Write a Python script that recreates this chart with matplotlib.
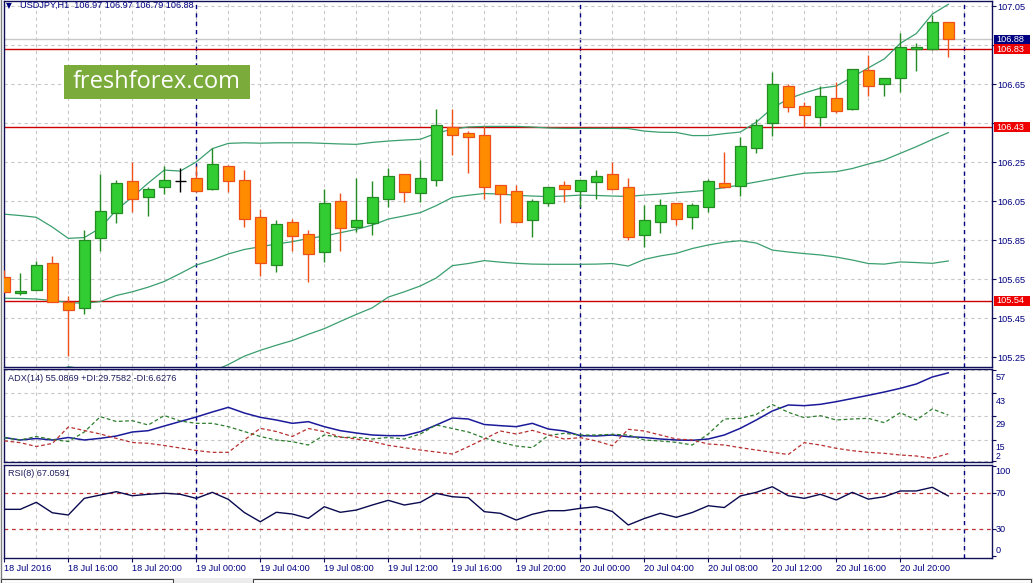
import matplotlib
matplotlib.use('Agg')
import matplotlib.pyplot as plt
import matplotlib.transforms as mtransforms
from matplotlib.patches import Rectangle
import numpy as np
import pandas as pd

plt.rcParams['font.family'] = ['Liberation Sans', 'DejaVu Sans']

# ---------------- data ----------------
symbol = 'USDJPY,H1'
first_bar = '2016-07-18 12:00'

open_ = [105.660, 105.578, 105.597, 105.734, 105.534, 105.501, 105.860, 105.988, 106.154, 106.070,
         106.122, 106.154, 106.168, 106.112, 106.229, 106.158, 105.968, 105.723, 105.942, 105.881,
         105.788, 106.050, 105.920, 105.940, 106.060, 106.188, 106.091, 106.158, 106.430, 106.399,
         106.390, 106.132, 106.101, 105.953, 106.040, 106.132, 106.101, 106.150, 106.188, 106.122,
         105.879, 105.942, 106.040, 105.968, 106.019, 106.144, 106.130, 106.322, 106.450, 106.640,
         106.537, 106.481, 106.578, 106.522, 106.722, 106.650, 106.681, 106.830, 106.830, 106.970]
high_ = [105.700, 105.684, 105.744, 105.771, 105.564, 105.903, 106.190, 106.159, 106.252, 106.122,
         106.231, 106.219, 106.233, 106.322, 106.238, 106.211, 106.010, 105.954, 105.959, 105.903,
         106.113, 106.091, 106.171, 106.156, 106.221, 106.190, 106.262, 106.522, 106.522, 106.410,
         106.436, 106.135, 106.132, 106.062, 106.125, 106.154, 106.160, 106.210, 106.250, 106.168,
         106.030, 106.062, 106.042, 106.040, 106.163, 106.304, 106.381, 106.472, 106.715, 106.650,
         106.558, 106.641, 106.662, 106.730, 106.800, 106.683, 106.912, 106.860, 107.004, 106.970]
low_ = [105.585, 105.569, 105.595, 105.533, 105.257, 105.470, 105.797, 105.940, 105.997, 105.976,
        106.087, 106.099, 106.100, 106.110, 106.099, 105.920, 105.668, 105.689, 105.797, 105.638,
        105.740, 105.797, 105.891, 105.879, 106.019, 106.048, 106.048, 106.130, 106.289, 106.197,
        106.060, 105.940, 105.940, 105.868, 106.027, 106.048, 106.019, 106.060, 106.110, 105.850,
        105.817, 105.889, 105.930, 105.910, 105.997, 106.120, 106.077, 106.299, 106.386, 106.510,
        106.433, 106.438, 106.501, 106.520, 106.588, 106.588, 106.609, 106.717, 106.828, 106.790]
close_ = [105.586, 105.590, 105.723, 105.535, 105.491, 105.850, 105.999, 106.142, 106.060, 106.112,
          106.158, 106.154, 106.101, 106.240, 106.153, 105.958, 105.732, 105.932, 105.870, 105.778,
          106.040, 105.912, 105.953, 106.072, 106.178, 106.099, 106.168, 106.441, 106.388, 106.378,
          106.122, 106.087, 105.942, 106.050, 106.122, 106.112, 106.158, 106.178, 106.112, 105.868,
          105.953, 106.030, 105.958, 106.030, 106.154, 106.122, 106.334, 106.440, 106.650, 106.532,
          106.491, 106.588, 106.511, 106.727, 106.640, 106.681, 106.840, 106.840, 106.968, 106.880]

bb_upper = [105.984, 105.977, 105.968, 105.918, 105.860, 105.864, 105.913, 106.005, 106.072, 106.144,
            106.210, 106.205, 106.252, 106.320, 106.347, 106.350, 106.348, 106.350, 106.350, 106.350,
            106.347, 106.344, 106.342, 106.352, 106.359, 106.364, 106.368, 106.399, 106.420, 106.431,
            106.434, 106.434, 106.434, 106.431, 106.426, 106.424, 106.424, 106.424, 106.424, 106.423,
            106.410, 106.404, 106.403, 106.387, 106.387, 106.397, 106.405, 106.456, 106.528, 106.575,
            106.605, 106.630, 106.641, 106.687, 106.734, 106.780, 106.860, 106.910, 107.010, 107.060]
bb_middle = [105.553, 105.552, 105.549, 105.541, 105.531, 105.527, 105.536, 105.567, 105.586, 105.610,
             105.639, 105.680, 105.723, 105.749, 105.780, 105.803, 105.817, 105.831, 105.843, 105.859,
             105.872, 105.889, 105.906, 105.928, 105.959, 105.975, 105.992, 106.028, 106.070, 106.081,
             106.090, 106.087, 106.081, 106.077, 106.074, 106.077, 106.082, 106.080, 106.077, 106.075,
             106.082, 106.087, 106.094, 106.100, 106.108, 106.120, 106.134, 106.149, 106.164, 106.180,
             106.194, 106.198, 106.202, 106.218, 106.241, 106.262, 106.296, 106.330, 106.367, 106.402]
bb_lower = [105.122, 105.127, 105.130, 105.164, 105.202, 105.190, 105.159, 105.129, 105.100, 105.076,
            105.068, 105.120, 105.194, 105.178, 105.213, 105.256, 105.286, 105.312, 105.336, 105.368,
            105.397, 105.434, 105.470, 105.504, 105.559, 105.586, 105.616, 105.657, 105.720, 105.731,
            105.746, 105.738, 105.732, 105.728, 105.727, 105.727, 105.727, 105.728, 105.731, 105.718,
            105.752, 105.770, 105.783, 105.808, 105.826, 105.840, 105.848, 105.836, 105.800, 105.790,
            105.782, 105.775, 105.764, 105.749, 105.731, 105.728, 105.739, 105.736, 105.732, 105.744]

adx = [16.3, 14.8, 15.7, 14.8, 16.3, 14.8, 15.8, 17.2, 19.6, 20.4,
       23.2, 25.9, 28.6, 31.6, 34.4, 31.0, 28.4, 26.8, 24.8, 25.8,
       22.8, 20.4, 19.0, 17.8, 17.4, 17.4, 19.8, 23.8, 28.0, 27.4,
       24.1, 23.4, 22.8, 24.8, 21.4, 20.2, 17.4, 17.2, 17.8, 16.8,
       16.3, 15.4, 14.8, 14.6, 15.4, 17.8, 21.8, 26.8, 32.2, 35.8,
       35.4, 36.2, 37.8, 39.7, 41.6, 43.6, 45.8, 48.4, 52.6, 55.0869]
plus_di = [16.2, 14.8, 16.9, 15.1, 13.9, 19.6, 28.8, 25.9, 26.4, 23.8,
           29.5, 26.2, 24.8, 24.8, 22.8, 19.9, 16.9, 14.8, 13.8, 11.8,
           17.8, 16.4, 16.4, 15.4, 16.3, 15.4, 18.4, 23.8, 21.7, 19.6,
           16.0, 13.4, 11.2, 10.2, 17.5, 18.8, 17.8, 17.8, 18.2, 17.8,
           14.8, 14.2, 13.4, 11.8, 18.4, 27.4, 27.8, 30.1, 36.1, 31.4,
           28.2, 29.4, 26.8, 27.4, 27.8, 25.2, 31.2, 26.8, 33.4, 29.7582]
minus_di = [14.3, 13.2, 10.9, 12.7, 22.6, 20.5, 18.4, 15.8, 13.3, 12.8,
            11.5, 10.0, 8.5, 7.4, 7.4, 14.8, 21.8, 19.9, 16.9, 21.7,
            19.8, 16.6, 15.4, 13.9, 11.6, 10.2, 8.8, 7.6, 6.4, 10.8,
            15.4, 20.2, 18.4, 20.6, 17.8, 15.4, 16.2, 14.2, 11.4, 21.2,
            20.2, 17.8, 15.4, 14.8, 12.4, 11.8, 10.2, 8.8, 7.4, 6.1,
            13.2, 11.8, 9.8, 8.4, 7.4, 6.8, 5.8, 5.2, 3.8, 6.6276]
rsi = [52.2, 52.2, 60.0, 48.4, 45.9, 64.4, 68.1, 71.8, 67.3, 68.9,
       70.1, 68.9, 64.4, 71.1, 63.3, 48.7, 38.4, 48.9, 47.0, 42.2,
       55.1, 48.9, 51.4, 57.0, 62.2, 57.0, 60.0, 70.0, 66.2, 65.1,
       49.6, 47.8, 40.3, 46.7, 50.7, 50.7, 53.3, 55.1, 49.8, 34.8,
       42.0, 47.8, 43.3, 48.7, 56.2, 54.2, 67.0, 71.1, 77.3, 67.3,
       64.4, 68.9, 62.6, 71.1, 63.5, 66.2, 72.6, 72.6, 76.7, 67.0591]

price_ticks = [105.25, 105.45, 105.65, 105.85, 106.05, 106.25, 106.45, 106.65, 106.85, 107.05]
level_lines = [106.83, 106.43, 105.54]
bid_price = 106.88
adx_ticks = [57, 43, 29, 15, 2]
rsi_levels = [70, 30]
rsi_ticks = [100, 70, 30, 0]
adx_title = 'ADX(14) 55.0869 +DI:29.7582 -DI:6.6276'
rsi_title = 'RSI(8) 67.0591'

# ---------------- style ----------------
W, H = 1033, 583
NAVY = '#000080'
FRAME = '#10105a'
GRID = '#c8c8c8'
BULL_FILL, BULL_EDGE = '#32CD32', '#228B22'
BEAR_FILL, BEAR_EDGE = '#FF8C00', '#EE5018'
BB_COLOR = '#3a9f6e'
FS = 6.6

def rect(x0, y0, x1, y1):
    return [x0 / W, 1 - y1 / H, (x1 - x0) / W, (y1 - y0) / H]

fig = plt.figure(figsize=(W / 100, H / 100), dpi=100)
fig.patch.set_facecolor('white')

ax = fig.add_axes(rect(3.5, 1, 991.5, 366.5))
ax2 = fig.add_axes(rect(3.5, 369, 991.5, 462))
ax3 = fig.add_axes(rect(3.5, 464.5, 991.5, 557.5))

n = len(open_)
x = np.arange(n)
o = np.array(open_); h = np.array(high_); l = np.array(low_); c = np.array(close_)

times = pd.date_range(first_bar, periods=n + 1, freq='h')
day_starts = [i for i, t in enumerate(times) if t.hour == 0]
label_idx = list(range(0, n, 4))
labels = [times[i].strftime('%d %b %Y') if i == 0 else times[i].strftime('%d %b %H:%M') for i in label_idx]

xlim = ((3.5 - 4.3) / 16, (991.5 - 4.3) / 16)

for a in (ax, ax2, ax3):
    a.set_xlim(*xlim)
    a.set_xticks(label_idx)
    a.set_xticks(range(0, n + 1, 2), minor=True)
    a.grid(True, which='both', axis='x', color=GRID, ls=(0, (3, 3)), lw=0.8)
    a.set_axisbelow(True)
    for s in a.spines.values():
        s.set_color(FRAME)
        s.set_linewidth(1.0)
    a.yaxis.tick_right()
    for d in day_starts:
        a.axvline(d, color=NAVY, ls=(0, (3, 3)), lw=1.0, zorder=1.2)

for a in (ax, ax2):
    a.tick_params(axis='x', which='both', length=0, labelbottom=False)
ax3.tick_params(axis='x', which='minor', length=0)
ax3.tick_params(axis='x', which='major', length=3, width=0.8, color=FRAME, pad=1.5,
                labelsize=FS, labelcolor=NAVY)
ax3.set_xticklabels(labels, ha='left')

# ---------------- main panel ----------------
ax.set_ylim(105.203, 107.077)
ax.set_yticks(price_ticks)
box_vals = [bid_price] + level_lines
# tick labels that sit under a price box are hidden by it in the reference
tick_text = ['' if min(abs(p - b) for b in box_vals) < 0.035 else f'{p:.2f}' for p in price_ticks]
ax.set_yticklabels(tick_text)
ax.tick_params(axis='y', length=3, width=0.8, color=FRAME, pad=1.5, labelsize=FS, labelcolor=NAVY)
ax.grid(True, axis='y', color=GRID, ls=(0, (3, 3)), lw=0.8)

ax.plot(x, bb_upper, color=BB_COLOR, lw=0.9, zorder=2)
ax.plot(x, bb_middle, color=BB_COLOR, lw=0.9, zorder=2)
ax.plot(x, bb_lower, color=BB_COLOR, lw=0.9, zorder=2)

for lv in level_lines:
    ax.axhline(lv, color='#cc0000', lw=1.0, zorder=1.5)
ax.axhline(bid_price, color='#c8c8c8', lw=1.0, zorder=1.4)

up = c > o
down = c < o
doji = c == o
wick_col = np.where(up, BULL_EDGE, np.where(down, BEAR_EDGE, 'black'))
ax.vlines(x, l, h, colors=wick_col, lw=1.0, zorder=3)
bw = 0.66
for mask, fill, edge in ((up, BULL_FILL, BULL_EDGE), (down, BEAR_FILL, BEAR_EDGE)):
    ax.bar(x[mask], np.abs(c - o)[mask], bottom=np.minimum(o, c)[mask], width=bw,
           color=fill, edgecolor=edge, lw=0.9, zorder=4)
ax.hlines(o[doji], x[doji] - bw / 2, x[doji] + bw / 2, colors='black', lw=1.0, zorder=4)

# price boxes on the right axis
blend = mtransforms.blended_transform_factory(ax.transAxes, ax.transData)
px_per_unit = (366.5 - 1) / (107.077 - 105.203)
box_h = 9.5 / px_per_unit
bx0 = (994 - 3.5) / 988
bxw = 35.5 / 988
for val, colr in [(bid_price, NAVY)] + [(lv, '#ee0000') for lv in level_lines]:
    ax.add_patch(Rectangle((bx0, val - box_h / 2), bxw, box_h, transform=blend,
                           facecolor=colr, edgecolor='none', clip_on=False, zorder=6))
    ax.text((996.5 - 3.5) / 988, val, f'{val:.2f}', transform=blend, color='white',
            fontsize=FS, va='center', ha='left', zorder=7, clip_on=False)

# ---------------- ADX panel ----------------
ax2.set_ylim(1.6, 57.4)
ax2.set_yticks(adx_ticks)
ax2.set_yticklabels([])
ax2.tick_params(axis='y', length=3, width=0.8, color=FRAME)
ax2.grid(True, axis='y', color=GRID, ls=(0, (3, 3)), lw=0.8)
ax2.plot(x, adx, color='#1a1a9a', lw=1.1, zorder=3)
ax2.plot(x, plus_di, color='#2e7d2e', lw=0.9, ls=(0, (3, 2)), zorder=3)
ax2.plot(x, minus_di, color='#b83030', lw=0.9, ls=(0, (3, 2)), zorder=3)
yt2 = ax2.get_yaxis_transform()
for v in adx_ticks:
    dy = 5.0 if v == min(adx_ticks) else -8.0
    fsz = FS - 0.4 if v in (15, 2) else FS
    tr = mtransforms.offset_copy(yt2, fig=fig, y=dy, units='dots')
    ax2.text(1.004, v, str(v), transform=tr, fontsize=fsz, color=NAVY, va='center', ha='left',
             clip_on=False)

# ---------------- RSI panel ----------------
ax3.set_ylim(-1.3, 102)
ax3.set_yticks(rsi_ticks)
ax3.set_yticklabels([])
ax3.tick_params(axis='y', length=3, width=0.8, color=FRAME)
for lv in rsi_levels:
    ax3.axhline(lv, color='#c03030', lw=0.9, ls=(0, (3, 3)), zorder=2)
ax3.plot(x, rsi, color='#0a0a50', lw=1.0, zorder=3)
yt3 = ax3.get_yaxis_transform()
for v in rsi_ticks:
    dy = -4.7 if v == max(rsi_ticks) else (5.6 if v == min(rsi_ticks) else 0)
    tr = mtransforms.offset_copy(yt3, fig=fig, y=dy, units='dots')
    ax3.text(1.004, v, str(v), transform=tr, fontsize=FS, color=NAVY, va='center', ha='left',
             clip_on=False)

# ---------------- texts ----------------
def ftext(px, py, s, **kw):
    fig.text(px / W, 1 - py / H, s, **kw)

ftext(6, 5.5, '\u25BC', fontsize=5.5, color=NAVY, va='center', ha='left',
      family=['DejaVu Sans'])
ftext(20, 5.5, f'{symbol}  {open_[-1]:.2f} {high_[-1]:.2f} {low_[-1]:.2f} {close_[-1]:.2f}',
      fontsize=FS, color=NAVY, va='center', ha='left')
ftext(8.3, 378.3, adx_title, fontsize=FS, color='#1c1c5c', va='center', ha='left')
ftext(8.3, 474, rsi_title, fontsize=FS, color='#1c1c5c', va='center', ha='left')

# logo
fig.add_artist(Rectangle((64 / W, 1 - 99 / H), (250 - 64) / W, 34 / H,
                         transform=fig.transFigure, facecolor='#7aab3b', edgecolor='none', zorder=5))
ftext(157, 82, 'freshforex.com', fontsize=17, color='white', va='center', ha='center',
      family=['Open Sans', 'DejaVu Sans'], zorder=6)

# bottom strip with tabs and left frame
fig.add_artist(Rectangle((0, 0), 1, 5 / H, transform=fig.transFigure,
                         facecolor='#ececec', edgecolor='none', zorder=5))
fig.add_artist(Rectangle((1 / W, 0), 172 / W, 4.5 / H, transform=fig.transFigure,
                         facecolor='white', edgecolor='#444444', lw=0.8, zorder=6))
fig.add_artist(Rectangle((253 / W, 0), 778 / W, 4.5 / H, transform=fig.transFigure,
                         facecolor='white', edgecolor='#444444', lw=0.8, zorder=6))
fig.add_artist(plt.Line2D([0.7 / W, 0.7 / W], [5 / H, 1], transform=fig.transFigure,
                          color='#808080', lw=1.0, zorder=6))

fig.savefig('out.png', dpi=100)
